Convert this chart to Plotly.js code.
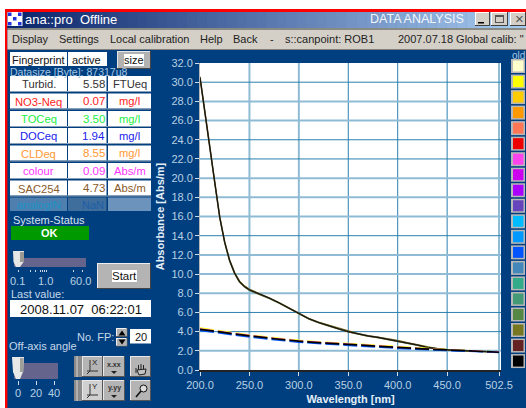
<!DOCTYPE html>
<html>
<head>
<meta charset="utf-8">
<script src="https://cdn.plot.ly/plotly-3.0.1.min.js"></script>
<style>html,body{margin:0;padding:0;background:#fff;overflow:hidden}#c{width:526px;height:408px}</style>
</head>
<body>
<div id="c"></div>
<script>
// ---- chart data ----
const wavelengthHigh = [200,205,210,215,220,225,230,235,240,245,250,260,270,280,290,300,310,320,330,340,350,360,370,380,390,400,410,420,430,440,450,460,470,480,490,502.5];
const spectrumHighA  = [30.5,27.0,23.3,19.5,15.9,13.3,11.4,10.1,9.2,8.7,8.35,7.95,7.5,7.0,6.45,5.9,5.35,4.95,4.6,4.3,4.0,3.75,3.55,3.4,3.2,3.05,2.8,2.6,2.35,2.2,2.1,2.05,2.0,1.95,1.9,1.85];
const spectrumHighB  = [30.6,27.1,23.4,19.6,16.0,13.4,11.5,10.2,9.3,8.8,8.45,8.0,7.55,7.05,6.5,5.95,5.4,5.0,4.68,4.36,4.06,3.8,3.6,3.45,3.26,3.1,2.86,2.66,2.4,2.24,2.13,2.08,2.03,1.98,1.92,1.87];
const spectrumHighC  = [30.4,26.9,23.2,19.4,15.8,13.2,11.3,10.0,9.1,8.62,8.27,7.88,7.43,6.94,6.4,5.84,5.3,4.9,4.54,4.25,3.95,3.7,3.5,3.35,3.15,3.0,2.75,2.55,2.3,2.17,2.07,2.02,1.97,1.92,1.87,1.83];
const wavelengthLow  = [200,225,250,275,300,325,350,375,400,425,450,475,502.5];
const spectrumLowA   = [4.24,3.88,3.55,3.26,3.0,2.82,2.65,2.48,2.33,2.2,2.1,1.98,1.85];
const spectrumLowB   = [4.38,4.0,3.66,3.36,3.1,2.92,2.75,2.58,2.42,2.27,2.14,2.01,1.87];
const spectrumLowC   = [4.12,3.77,3.44,3.16,2.9,2.73,2.56,2.39,2.25,2.13,2.05,1.94,1.83];
const spectrumLowD   = [4.3,3.93,3.6,3.31,3.05,2.87,2.7,2.53,2.37,2.23,2.12,1.99,1.86];
const xTickValues = [200,250,300,350,400,450,502.5];
const xTickLabels = ['200.0','250.0','300.0','350.0','400.0','450.0','502.5'];
const yTickValues = [0,2,4,6,8,10,12,14,16,18,20,22,24,26,28,30,32];
const yTickLabels = ['0.0','2.0','4.0','6.0','8.0','10.0','12.0','14.0','16.0','18.0','20.0','22.0','24.0','26.0','28.0','30.0','32.0'];
const rowLabels = ['Turbid.','NO3-Neq','TOCeq','DOCeq','CLDeq','colour','SAC254'];
const rowValues = ['5.58','0.07','3.50','1.94','8.55','0.09','4.73'];
const rowUnits  = ['FTUeq','mg/l','mg/l','mg/l','mg/l','Abs/m','Abs/m'];
const swatches  = ['#ffffcc','#ffff00','#ffcc00','#ff9900','#ff7755','#ee0000','#ff44ee','#cc00ee','#aa00ff','#6644bb','#00bbff','#0099ff','#0055ff','#4488bb','#33aa88','#449977','#558844','#777722','#662222','#000000'];

// ---- styles and page geometry ----
const rowColors = ['#333333','#ff2222','#22ee44','#2222ee','#ff9933','#ff33ff','#8a5a2a'];
const palePos = {x:[250,300,502.5], y:[2,8,10,12,16,18,20,26,28]};
const W=526,H=408,ML=200,MR=25,MT=63,MB=38;
const PW=W-ML-MR, PH=H-MT-MB;
const fx=p=>(p-ML)/PW, fy=p=>1-(p-MT)/PH;
const FONT='"Liberation Sans", Arial, sans-serif';

const shapes=[], notes=[];
function rect(x0,y0,x1,y1,fill){
  shapes.push({type:'rect',xref:'paper',yref:'paper',x0:fx(x0),x1:fx(x1),y0:fy(y1),y1:fy(y0),fillcolor:fill,line:{width:0},layer:'below'});
}
function hl(x0,y0,x1,y1,col,w){
  shapes.push({type:'line',xref:'paper',yref:'paper',x0:fx(x0),x1:fx(x1),y0:fy(y0),y1:fy(y1),line:{color:col,width:w||1},layer:'below'});
}
function path(pts,fill,col){
  const d=pts.map((p,i)=>(i?'L':'M')+fx(p[0])+','+fy(p[1])).join(' ')+' Z';
  shapes.push({type:'path',xref:'paper',yref:'paper',path:d,fillcolor:fill,line:{width:col?1:0,color:col||'#000'},layer:'below'});
}
function bevel(x0,y0,x1,y1,fill,lt,dk){
  rect(x0,y0,x1,y1,dk||'#555a60');
  rect(x0,y0,x1-1,y1-1,lt||'#f0f0f0');
  rect(x0+1,y0+1,x1-1,y1-1,fill);
}
function txt(s,x,y,col,size,anchor,opt){
  notes.push(Object.assign({xref:'paper',yref:'paper',x:fx(x),y:fy(y),text:s,showarrow:false,xanchor:anchor||'left',yanchor:'middle',
    font:{family:FONT,size:size||11,color:col},borderpad:0,borderwidth:0},opt||{}));
}
function lerp(a,b,t){return Math.round(a+(b-a)*t);}

// window frame
rect(0,0,526,9,'#ffffff');
rect(0,0,5,408,'#ffffff');
rect(5,9,526,12,'#ff0000');
rect(5,9,7.4,408,'#ff0000');
// title bar gradient
const steps=52;
for(let i=0;i<steps;i++){
  const t=i/(steps-1);
  const c=`rgb(${lerp(10,166,t)},${lerp(36,202,t)},${lerp(106,240,t)})`;
  rect(7.4+i*(518.6/steps),12,7.4+(i+1)*(518.6/steps)+0.5,28,c);
}
rect(7.4,28,526,30,'#8a8a84');
rect(7.4,30,526,49,'#d4d0c8');
rect(7.4,49,526,50,'#808080');
// app icon
rect(7.5,12,22.5,26,'#ffffff');
[[8,12.5],[18,12.5],[13,17],[8,22],[18,22]].forEach(p=>rect(p[0],p[1],p[0]+3.5,p[1]+3.5,'#2233dd'));
txt('ana::pro  Offline',25,19.5,'#ffffff',13);
txt('DATA ANALYSIS',464,19.5,'#f2f6fc',12.5,'right');
// window buttons
bevel(475,12,490,26,'#d4d0c8','#ffffff','#404040');
rect(478,22,484,23.5,'#000000');
bevel(491,12,508,26,'#d4d0c8','#ffffff','#404040');
rect(495,15,504,23,'#555555'); rect(496,17,503,22,'#d4d0c8');
bevel(510,12,526,26,'#d4d0c8','#ffffff','#404040');
txt('×',519,19,'#555555',15,'center');
// menu
[['Display',12],['Settings',59],['Local calibration',110],['Help',200],['Back',233],['-',270],['s::canpoint: ROB1',285],['2007.07.18 Global calib: "',398]]
  .forEach(m=>txt(m[0],m[1],39.5,'#222222',11));

// left panel
rect(10,52,67,66,'#ffffff'); rect(68,52,107,66,'#ffffff');
txt('Fingerprint',38.5,60,'#111111',11,'center');
txt('active',86,60,'#111111',11,'center');
bevel(117,51,151,69,'#b2b2b2','#e4e4e4','#444444');
txt('size',134,60,'#111111',11,'center',{bgcolor:'#ffffff'});
txt('Datasize [Byte]: 87317u8',10,72,'#a6c8e4',10.5);
const rowTop=[76,93.5,111,128,145.5,163,180.5];
rowLabels.forEach((lab,i)=>{
  const y=rowTop[i];
  rect(10,y,67,y+15,'#ffffff'); rect(68,y,106.5,y+15,'#ffffff'); rect(108,y,151,y+15,'#ffffff');
  rect(10,y+15,151,y+16,'#8aa0b8');
  txt(lab,38.5,y+8,rowColors[i],11.2,'center');
  txt(rowValues[i],105,y+7.5,rowColors[i],11.5,'right');
  txt(rowUnits[i],129.5,y+7.5,rowColors[i],11.2,'center');
});
rect(10,197.5,67,211,'#4f7fae'); rect(68,197.5,106.5,211,'#3f6d9c'); rect(108,197.5,151,211,'#6c93bb');
txt('analogIN',38.5,205,'#1a93c6',11,'center');
txt('NaN',93,205,'#1c5fa6',11,'center');
txt('System-Status',12.5,219.5,'#d8e4f0',11);
rect(11,226,89,240,'#009900');
txt('<b>OK</b>',49,233,'#ffffff',11,'center');
// sample-rate slider
rect(14,258,86,267,'#64648c');
path([[13,251],[24,251],[23.5,262],[20,267],[16,267],[13.5,262]],'#e6e6e6');
rect(20,252,24,262,'#9a9a94');
[18,30,35,40,42,44,46,73,82].forEach(x=>rect(x,270,x+1,272,'#c8d8e8'));
txt('0.1',17,281,'#b8d0e4',11,'center');
txt('1.0',45,281,'#b8d0e4',11,'center');
txt('60.0',80.5,281,'#b8d0e4',11,'center');
bevel(97,263,151,289,'#b4b4b4','#eeeeee','#444444');
txt('Start',124,276,'#111111',11.5,'center',{bgcolor:'#ffffff'});
txt('Last value:',11,294,'#c6d8ea',11);
rect(10,300,151,317,'#ffffff');
txt('2008.11.07  06:22:01',80.5,309,'#111111',13,'center');
txt('No. FP:',76.5,337,'#c6d8ea',11);
bevel(116,328,127.5,337,'#b0b0b0'); path([[118.5,335.5],[125.5,335.5],[122,330.5]],'#000000');
bevel(116,338,127.5,346.5,'#b0b0b0'); path([[118.5,339.5],[125.5,339.5],[122,344.5]],'#000000');
rect(130,329,151,343.5,'#ffffff');
txt('20',140.5,336.5,'#111111',11,'center');
txt('Off-axis angle',9,345.5,'#c6d8ea',11);
// off-axis slider
rect(14,363,58,379,'#64648c');
path([[12,357],[24,357],[23,372],[20,379],[16,379],[13,372]],'#e8e8e8');
rect(20,358,23.5,372,'#a0a09a');
[18,36,54].forEach(x=>{rect(x,381,x+1,385,'#d0dcea');});
txt('0',18,393,'#b8d0e4',11,'center');
txt('20',36,393,'#b8d0e4',11,'center');
txt('40',54,393,'#b8d0e4',11,'center');
// tool buttons
[356,380].forEach((y,k)=>{
  rect(74,y,82,y+21,'#8a8a8a'); rect(76,y,78,y+21,'#b0b0b0');
  bevel(82,y,103,y+21,k?'#d0d0d0':'#b4b4b4','#e8e8e8','#555555');
  bevel(103,y,125,y+21,'#b4b4b4','#e8e8e8','#555555');
  bevel(130,y,151,y+21,'#b4b4b4','#e8e8e8','#555555');
  hl(90,y+4,90,y+15,'#333333',1); hl(87,y+15,98,y+15,'#333333',1); hl(90,y+15,87,y+18,'#333333',1);
  txt(k?'Y':'X',95,y+6,'#222222',8,'center');
  txt(k?'<b>y.yy</b>':'<b>x.xx</b>',114,y+8,'#333333',7,'center');
  path([[111,y+15],[117,y+15],[114,y+18]],'#222222');
});
// hand tool
[[136,368],[138.5,365],[141,364],[143.5,365]].forEach(p=>hl(p[0],p[1],p[0],p[1]+5,'#222222',1));
path([[137,370],[146,369],[145,374],[139,375]],'#c4c4c4','#222222');
// zoom tool
shapes.push({type:'circle',xref:'paper',yref:'paper',x0:fx(140),x1:fx(147),y0:fy(392),y1:fy(385),fillcolor:'#dddddd',line:{color:'#111111',width:1},layer:'below'});
hl(141,391,136,397,'#111111',1.6);

// colour swatches
txt('old',518,55,'#a6c8e4',10,'center');
swatches.forEach((c,i)=>{
  const yc=66+i*15.53;
  rect(511,yc-7,525,yc+7,'#b8b8b8');
  rect(513,yc-5.5,523.5,yc+5.5,c);
});

// grid, from the tick values
function gridShape(axis,v){
  const pale=palePos[axis].includes(v);
  const s={type:'line',line:{color:pale?'#8fbcd4':'#2a80b0',width:pale?2:1},layer:'below'};
  if(axis==='x'){s.xref='x';s.yref='paper';s.x0=v;s.x1=v;s.y0=0;s.y1=1;}
  else{s.yref='y';s.xref='paper';s.y0=v;s.y1=v;s.x0=0;s.x1=1;}
  return s;
}
xTickValues.slice(1).forEach(v=>shapes.push(gridShape('x',v)));
yTickValues.slice(1,-1).forEach(v=>shapes.push(gridShape('y',v)));

// traces
const lowDash='14px,4px';
const traces=[
  {x:wavelengthHigh,y:spectrumHighB,color:swatches[17],w:1},
  {x:wavelengthHigh,y:spectrumHighC,color:swatches[16],w:1},
  {x:wavelengthHigh,y:spectrumHighA,color:'#5a4a30',w:1.6},
  {x:wavelengthHigh,y:spectrumHighA,color:swatches[19],w:0.8},
  {x:wavelengthLow,y:spectrumLowB,color:swatches[1],w:1.3,dash:lowDash},
  {x:wavelengthLow,y:spectrumLowC,color:swatches[12],w:1.5,dash:lowDash},
  {x:wavelengthLow,y:spectrumLowD,color:swatches[6],w:1.2,dash:lowDash},
  {x:wavelengthLow,y:spectrumLowA,color:swatches[19],w:1.7,dash:lowDash}
].map(t=>({type:'scatter',mode:'lines',x:t.x,y:t.y,hoverinfo:'skip',line:{color:t.color,width:t.w,dash:t.dash||'solid',shape:'linear'}}));

const layout={
  width:W,height:H,
  margin:{l:ML,r:MR,t:MT,b:MB,pad:0},
  paper_bgcolor:'#003f7f',
  plot_bgcolor:'#ffffff',
  showlegend:false,
  font:{family:FONT,size:11,color:'#b8d0e4'},
  xaxis:{range:[200,504.5],tickmode:'array',tickvals:xTickValues,ticktext:xTickLabels,showgrid:false,zeroline:false,
    ticks:'outside',ticklen:4,tickcolor:'#d0dcea',tickwidth:1,showline:true,linecolor:'#222222',linewidth:2,
    tickfont:{family:FONT,size:11,color:'#b8d0e4'},
    title:{text:'<b>Wavelength [nm]</b>',standoff:5,font:{family:FONT,size:11,color:'#e4eef8'}}},
  yaxis:{range:[0,32],tickmode:'array',tickvals:yTickValues,ticktext:yTickLabels,showgrid:false,zeroline:false,
    ticks:'outside',ticklen:4,tickcolor:'#d0dcea',tickwidth:1,showline:true,linecolor:'#b8b8b8',linewidth:1,
    tickfont:{family:FONT,size:11,color:'#b8d0e4'},
    title:{text:'<b>Absorbance [Abs/m]</b>',standoff:4,font:{family:FONT,size:11,color:'#e4eef8'}}},
  shapes:shapes,
  annotations:notes
};
Plotly.newPlot('c',traces,layout,{displayModeBar:false,staticPlot:true});
</script>
</body>
</html>
